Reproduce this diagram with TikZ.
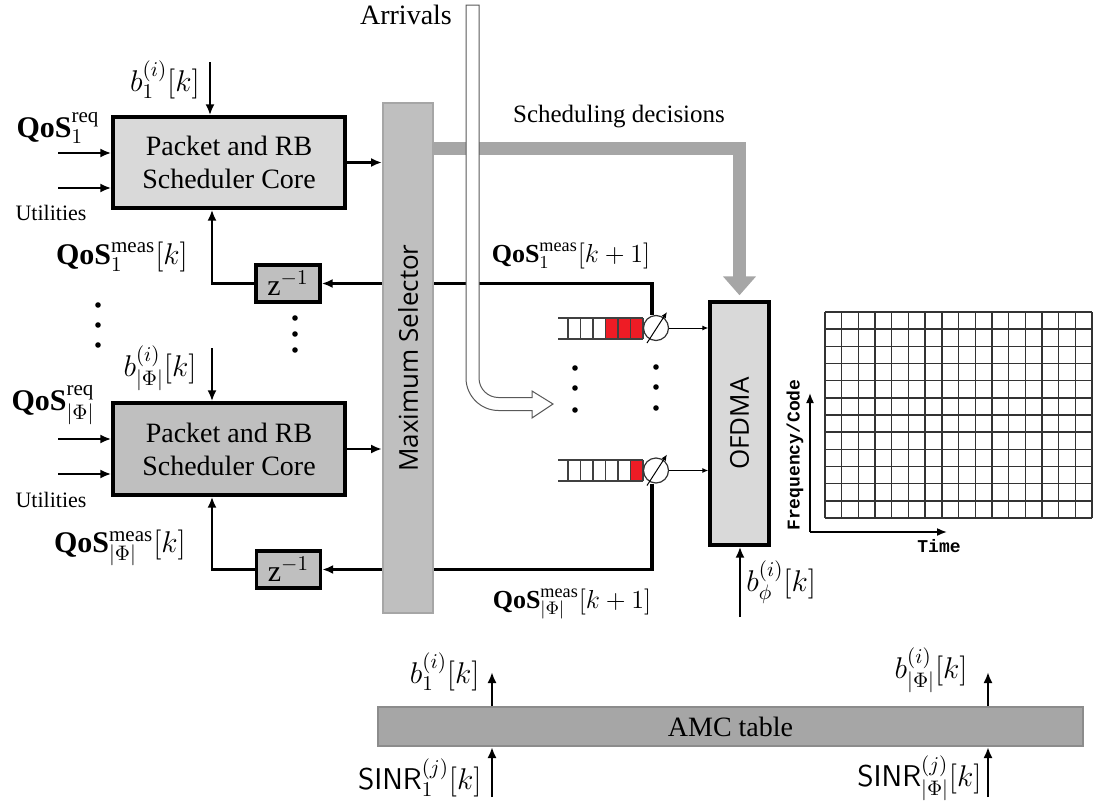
\documentclass[tikz,border=0pt]{standalone}
\usepackage{fix-cm}
\usepackage{fontspec}
\usepackage{graphicx}
\setmainfont{Liberation Serif}
\newfontfamily\osans{Open Sans}
\newfontfamily\cmono{Liberation Mono}
\usetikzlibrary{arrows.meta}
\definecolor{lg}{HTML}{D9D9D9}
\definecolor{mg}{HTML}{BFBFBF}
\definecolor{dg}{HTML}{A6A6A6}
\definecolor{bgr}{HTML}{8C8C8C}
\definecolor{qred}{HTML}{EE1C25}
\tikzset{
 arr/.style={line width=1.4pt, -{Latex[length=5.5pt,width=4.5pt]}},
 fbarr/.style={line width=1.6pt, -{Latex[length=5.5pt,width=4.5pt]}},
 thinarr/.style={line width=0.5pt, -{Latex[length=3pt,width=2.5pt]}},
 blk/.style={draw=black, line width=1.7pt, inner sep=0pt},
 lbl/.style={inner sep=0pt, font=\fontsize{15}{18}\selectfont},
 slbl/.style={inner sep=0pt, font=\fontsize{13}{16}\selectfont},
 txt/.style={inner sep=0pt, font=\fontsize{14}{16.5}\selectfont},
 small/.style={inner sep=0pt, font=\fontsize{11}{13}\selectfont},
 qline/.style={draw=black!75, line width=0.6pt},
 dot/.style={fill=black},
}
\begin{document}
\begin{tikzpicture}[x=0.5pt,y=-0.5pt]
\useasboundingbox (0,0) rectangle (1094,804);

% scheduler cores
\node[blk, fill=lg, minimum width=116pt, minimum height=45.5pt, align=center, txt] (core1) at (229,162.5) {Packet and RB\\Scheduler Core};
\node[blk, fill=mg, minimum width=116pt, minimum height=46pt, align=center, txt] (core2) at (229,449) {Packet and RB\\Scheduler Core};

% inputs
\coordinate (u1a) at (58,153); \coordinate (u1b) at (58,188);
\coordinate (u2a) at (58,439); \coordinate (u2b) at (58,474);
\draw[arr] (u1a) -- (u1a -| core1.west);
\draw[arr] (u1b) -- (u1b -| core1.west);
\draw[arr] (u2a) -- (u2a -| core2.west);
\draw[arr] (u2b) -- (u2b -| core2.west);
\coordinate (b1s) at (210,62); \draw[arr] (b1s) -- (b1s |- core1.north);
\coordinate (b2s) at (212,348); \draw[arr] (b2s) -- (b2s |- core2.north);

% delay boxes
\node[blk, fill=mg, minimum width=32pt, minimum height=18.5pt, lbl] (z1) at (288,283.5) {$\mathrm{z}^{-1}$};
\node[blk, fill=mg, minimum width=32pt, minimum height=18.5pt, lbl] (z2) at (288.5,569.5) {$\mathrm{z}^{-1}$};
\draw[arr] (z1.west) -| ([xshift=-8.5pt]core1.south);
\draw[arr] (z2.west) -| ([xshift=-8.5pt]core2.south);

% queues
\fill[qred] (605.5,318) rectangle (643,339);
\draw[qline] (558,318) -- (643,318) (558,339) -- (643,339);
\foreach \x in {568,580.5,593,605.5,618,630.5,643} \draw[qline] (\x,318) -- (\x,339);
\fill[qred] (630.5,460) rectangle (643,481);
\draw[qline] (558,460) -- (643,460) (558,481) -- (643,481);
\foreach \x in {568,580.5,593,605.5,618,630.5,643} \draw[qline] (\x,460) -- (\x,481);
\node[circle, draw=black!80, line width=0.6pt, fill=white, minimum size=12.5pt, inner sep=0pt] (srv1) at (656,328) {};
\node[circle, draw=black!80, line width=0.6pt, fill=white, minimum size=12.5pt, inner sep=0pt] (srv2) at (656,470.5) {};
\draw[thinarr] ([shift={(-4.5pt,-7.5pt)}]srv1.center) -- ([shift={(5.5pt,8pt)}]srv1.center);
\draw[thinarr] ([shift={(-4.5pt,-7.5pt)}]srv2.center) -- ([shift={(5.5pt,8pt)}]srv2.center);

% feedback lines (behind selector)
\draw[fbarr] ([xshift=-2pt]srv1.north) |- (z1.east);
\draw[fbarr] ([xshift=-2pt]srv2.south) |- (z2.east);

% maximum selector
\node[draw=dg, line width=1pt, fill=mg, minimum width=25pt, minimum height=255pt, inner sep=0pt, font=\osans\fontsize{13}{15}\selectfont] (sel) at (408,358) {\rotatebox{90}{Maximum Selector}};
\draw[arr] (core1.east) -- (core1.east -| sel.west);
\draw[arr] (core2.east) -- (core2.east -| sel.west);

% OFDMA
\node[blk, fill=lg, minimum width=29.5pt, minimum height=121.5pt, font=\osans\fontsize{13}{15}\selectfont] (ofdma) at (739.5,423.5) {\rotatebox{90}{OFDMA}};
\draw[thinarr] (srv1.east) -- (srv1.east -| ofdma.west);
\draw[thinarr] (srv2.east) -- (srv2.east -| ofdma.west);
\coordinate (bphi) at (740,617);
\draw[arr] (bphi) -- (bphi |- ofdma.south);

% scheduling decisions
\coordinate (sd0) at (433,148);
\draw[dg, line width=6.5pt, -{Triangle[width=16pt,length=9.5pt]}] (sd0) -| ([yshift=2.5pt]ofdma.north);
\node[inner sep=0pt, font=\fontsize{12.5}{15}\selectfont] (sdl) at (619,117) {Scheduling decisions};

% arrivals arrow
\draw[fill=white, draw=black!65, line width=0.5pt]
 (466,5) -- (466,378) .. controls (466,395.9) and (480.6,410.5) .. (498.5,410.5)
 -- (532,410.5) -- (532,418) -- (553,404) -- (532,391) -- (532,397.5) -- (498.5,397.5)
 .. controls (487.7,397.5) and (479,388.8) .. (479,378) -- (479,5) -- cycle;
\node[txt] (arrl) at (406,15) {Arrivals};

% dots
\foreach \y in {305,325,345} \fill[dot] (98,\y) circle[radius=1.4pt];
\foreach \y in {318,334,350} \fill[dot] (295,\y) circle[radius=1.4pt];
\foreach \y in {368,388,410} \fill[dot] (575,\y) circle[radius=1.4pt];
\foreach \y in {367,387,408} \fill[dot] (656,\y) circle[radius=1.4pt];

% grid
\foreach \i in {0,...,16} \draw[black!80, line width=0.7pt] (825+\i*16.69,312) -- (825+\i*16.69,518);
\foreach \j in {0,...,12} \draw[black!80, line width=0.7pt] (825,312+\j*17.17) -- (1092,312+\j*17.17);
\coordinate (org) at (810,532);
\coordinate (fy) at (810,393);
\coordinate (tx) at (947,532);
\draw[line width=0.8pt, -{Latex[length=5pt,width=4pt]}] (org) -- (fy);
\draw[line width=0.8pt, -{Latex[length=5pt,width=4pt]}] (org) -- (tx);
\node[inner sep=0pt, rotate=90, font=\cmono\bfseries\fontsize{9}{10}\selectfont] (fcl) at (795,455) {Frequency/Code};
\node[inner sep=0pt, font=\cmono\bfseries\fontsize{9}{10}\selectfont] (tml) at (939,546) {Time};

% AMC table
\node[draw=bgr, line width=1pt, fill=dg, minimum width=352.5pt, minimum height=19.5pt, inner sep=0pt, txt] (amc) at (730.5,726.5) {AMC table};
\coordinate (ab1) at (492,672); \draw[arr] (ab1 |- amc.north) -- (ab1);
\coordinate (ab2) at (988,672); \draw[arr] (ab2 |- amc.north) -- (ab2);
\coordinate (as1) at (492,797); \draw[arr] (as1) -- (as1 |- amc.south);
\coordinate (as2) at (988,797); \draw[arr] (as2) -- (as2 |- amc.south);

% labels
\node[lbl] (lq1) at (58,128) {$\mathbf{QoS}_1^{\mathrm{req}}$};
\node[small] (lu1) at (51,213) {Utilities};
\node[lbl] (lb1) at (165,80) {$b_1^{(i)}[k]$};
\node[lbl] (lm1) at (122,257) {$\mathbf{QoS}_1^{\mathrm{meas}}[k]$};
\node[lbl] (lb2) at (160,368) {$b_{|\Phi|}^{(i)}[k]$};
\node[lbl] (lq2) at (53,405) {$\mathbf{QoS}_{|\Phi|}^{\mathrm{req}}$};
\node[small] (lu2) at (51,500) {Utilities};
\node[lbl] (lm2) at (120,548) {$\mathbf{QoS}_{|\Phi|}^{\mathrm{meas}}[k]$};
\node[slbl] (lk1) at (571,256) {$\mathbf{QoS}_1^{\mathrm{meas}}[k+1]$};
\node[slbl] (lk2) at (572,604) {$\mathbf{QoS}_{|\Phi|}^{\mathrm{meas}}[k+1]$};
\node[lbl, anchor=west] (lbp) at (746,582) {$b_{\phi}^{(i)}[k]$};
\node[lbl, anchor=east] (lab1) at (480,672) {$b_1^{(i)}[k]$};
\node[lbl, anchor=east] (lab2) at (968,670) {$b_{|\Phi|}^{(i)}[k]$};
\node[lbl, anchor=east] (las1) at (482,778) {$\mathsf{SINR}_1^{(j)}[k]$};
\node[lbl, anchor=east] (las2) at (982,778) {$\mathsf{SINR}_{|\Phi|}^{(j)}[k]$};
\end{tikzpicture}
\end{document}
